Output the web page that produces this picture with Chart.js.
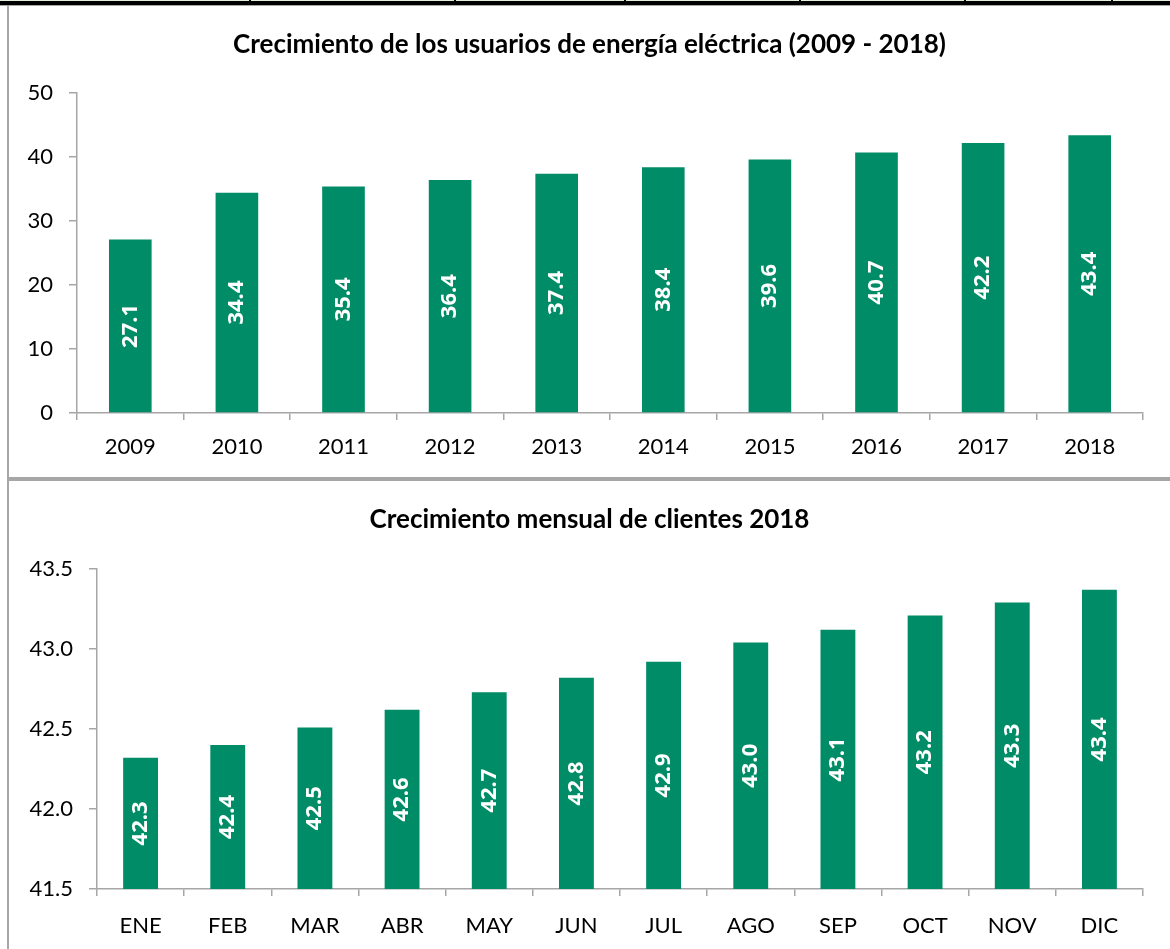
<!DOCTYPE html>
<html>
<head>
<meta charset="utf-8">
<title>Crecimiento de usuarios</title>
<script src="https://cdn.jsdelivr.net/npm/chart.js"></script>
<style>
  body { margin: 0; background: #fff; width: 1170px; height: 949px; position: relative; overflow: hidden; }
  .box { position: absolute; left: 9px; width: 1161px; }
  #topBox { top: 6px; height: 470px; }
  #bottomBox { top: 482px; height: 467px; }
  .rule { position: absolute; }
</style>
</head>
<body>
<!-- sheet borders around the charts -->
<div class="rule" style="left:0;top:0;width:1170px;height:1px;background:#e4efdc"></div>
<div class="rule" style="left:0;top:1px;width:1170px;height:4px;background:#000"></div>
<div class="rule" style="left:0;top:5px;width:1170px;height:1px;background:#a6a6a6"></div>
<div class="rule" style="left:249px;top:0;width:2px;height:2px;background:#000"></div>
<div class="rule" style="left:454px;top:0;width:2px;height:2px;background:#000"></div>
<div class="rule" style="left:624px;top:0;width:2px;height:2px;background:#000"></div>
<div class="rule" style="left:799px;top:0;width:2px;height:2px;background:#000"></div>
<div class="rule" style="left:964px;top:0;width:2px;height:2px;background:#000"></div>
<div class="rule" style="left:1111px;top:0;width:2px;height:2px;background:#000"></div>
<div class="rule" style="left:7px;top:5px;width:2px;height:944px;background:#a6a6a6"></div>
<div class="rule" style="left:8px;top:477px;width:1162px;height:4px;background:#a6a6a6"></div>

<div class="box" id="topBox"><canvas id="chartYears"></canvas></div>
<div class="box" id="bottomBox"><canvas id="chartMonths"></canvas></div>

<script>
// data
const years = ['2009', '2010', '2011', '2012', '2013', '2014', '2015', '2016', '2017', '2018'];
const yearUsers = [27.1, 34.4, 35.4, 36.4, 37.4, 38.4, 39.6, 40.7, 42.2, 43.4];
const months = ['ENE', 'FEB', 'MAR', 'ABR', 'MAY', 'JUN', 'JUL', 'AGO', 'SEP', 'OCT', 'NOV', 'DIC'];
const monthClients = [42.32, 42.40, 42.51, 42.62, 42.73, 42.82, 42.92, 43.04, 43.12, 43.21, 43.29, 43.37];
const yearTicks = { min: 0, max: 50, step: 10 };
const monthTicks = { min: 41.5, max: 43.5, step: 0.5 };

const green = '#008c66';
const axisGray = '#a6a6a6';
const fontFamily = 'Lato, "Open Sans", sans-serif';

// white rotated values in the middle of each (visible) bar
const barLabels = {
  id: 'barLabels',
  afterDatasetsDraw(chart) {
    const ctx = chart.ctx;
    const values = chart.data.datasets[0].data;
    const bottom = chart.chartArea.bottom;
    ctx.save();
    ctx.fillStyle = '#fff';
    ctx.font = 'bold 22px "Open Sans", sans-serif';
    ctx.textAlign = 'center';
    ctx.textBaseline = 'middle';
    chart.getDatasetMeta(0).data.forEach((bar, i) => {
      ctx.save();
      ctx.translate(bar.x, (bar.y + Math.min(bar.base, bottom)) / 2);
      ctx.rotate(-Math.PI / 2);
      ctx.fillText(values[i].toFixed(1), 0, 0);
      ctx.restore();
    });
    ctx.restore();
  }
};

function makeChart(id, title, labels, values, range, decimals, yWidth, xHeight, titlePad, xPad) {
  return new Chart(document.getElementById(id), {
    type: 'bar',
    data: {
      labels: labels,
      datasets: [{
        data: values,
        backgroundColor: green,
        borderWidth: 0,
        barPercentage: 0.4,
        categoryPercentage: 1
      }]
    },
    options: {
      responsive: true,
      maintainAspectRatio: false,
      animation: false,
      layout: { padding: 0 },
      plugins: {
        legend: { display: false },
        tooltip: { enabled: false },
        title: {
          display: true,
          text: title,
          color: '#000',
          font: { family: fontFamily, size: 26, weight: 'bold', lineHeight: 1.2 },
          padding: titlePad
        }
      },
      scales: {
        x: {
          grid: { drawOnChartArea: false, tickLength: 7, color: axisGray, lineWidth: 1.5, offset: true },
          border: { color: axisGray, width: 1.5 },
          ticks: { color: '#000', font: { family: fontFamily, size: 22 }, padding: xPad },
          afterFit: s => { s.height = xHeight; }
        },
        y: {
          min: range.min,
          max: range.max,
          grid: { drawOnChartArea: false, tickLength: 8, color: axisGray, lineWidth: 1.5 },
          border: { color: axisGray, width: 1.5 },
          ticks: {
            stepSize: range.step,
            color: '#000',
            font: { family: fontFamily, size: 22 },
            padding: 16,
            callback: v => Number(v).toFixed(decimals)
          },
          afterFit: s => { s.width = yWidth; }
        },
        // empty right-hand axis: only reserves the white margin right of the plot
        spacer: {
          type: 'linear',
          position: 'right',
          grid: { display: false },
          border: { display: false },
          ticks: { display: false },
          afterFit: s => { s.width = 27; }
        }
      }
    },
    plugins: [barLabels]
  });
}

makeChart('chartYears', 'Crecimiento de los usuarios de energía eléctrica (2009 - 2018)',
  years, yearUsers, yearTicks, 0, 68, 63, { top: 23.4, bottom: 32.4 }, 14);
makeChart('chartMonths', 'Crecimiento mensual de clientes 2018',
  months, monthClients, monthTicks, 1, 88, 60, { top: 22.4, bottom: 33.4 }, 17);
</script>
</body>
</html>
